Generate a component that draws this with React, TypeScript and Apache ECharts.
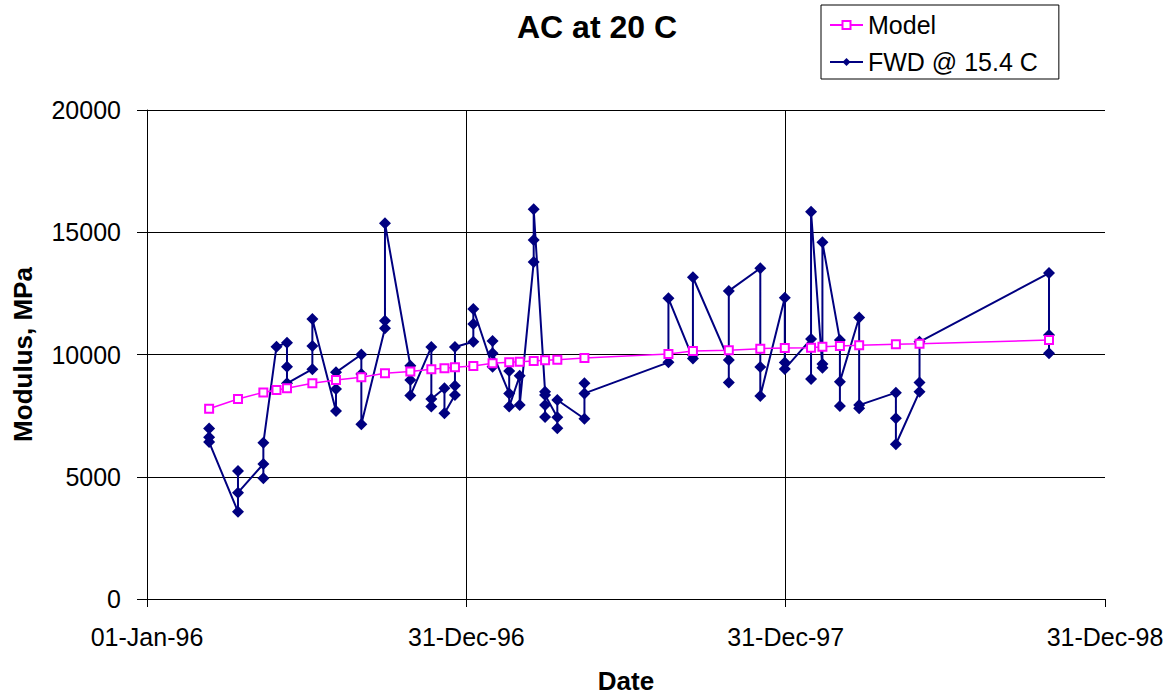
import React, { useEffect, useRef } from "react";
import * as echarts from "echarts";

// Survey dates (one per model point / FWD visit)
const dates = [
  "1996-03-12", "1996-04-14", "1996-05-13", "1996-05-28", "1996-06-09",
  "1996-07-08", "1996-08-04", "1996-09-02", "1996-09-29", "1996-10-28",
  "1996-11-21", "1996-12-06", "1996-12-18", "1997-01-08", "1997-01-30",
  "1997-02-18", "1997-03-02", "1997-03-18", "1997-03-31", "1997-04-14",
  "1997-05-15", "1997-08-19", "1997-09-16", "1997-10-27", "1997-12-02",
  "1997-12-30", "1998-01-29", "1998-02-11", "1998-03-03", "1998-03-25",
  "1998-05-06", "1998-06-02", "1998-10-28",
];

// Model modulus (MPa) at each date
const modelValues = [
  7780, 8180, 8450, 8550, 8620, 8820, 8960, 9070, 9230, 9300,
  9400, 9440, 9480, 9530, 9640, 9680, 9700, 9730, 9760, 9790,
  9860, 10020, 10140, 10170, 10240, 10270, 10280, 10320, 10350, 10380,
  10420, 10440, 10590,
];

// FWD back-calculated modulus (MPa), readings per date in plotting order
const fwdReadings = [
  [6970, 6620, 6420],
  [3570, 5240, 4350],
  [5520, 4940, 6390],
  [10320],
  [10480, 9500, 8820],
  [9400, 10350, 11450],
  [7690, 8590, 9270],
  [10000, 9200, 7150],
  [11070, 11380, 15370],
  [9540, 8960, 8320],
  [10310, 7870, 8180],
  [8620, 7600],
  [8340, 8720, 10310],
  [10520, 11250, 11860],
  [9500, 10550, 10050],
  [8410, 9330, 7870],
  [9130, 7930],
  [13780, 14680, 15940],
  [8480, 7440, 7930, 8340],
  [7430, 6980, 8140],
  [7370, 8820, 8410],
  [9680, 12300],
  [9840, 9980, 13160],
  [9780, 8850, 12600],
  [13530, 9490, 8300],
  [12320, 9670, 9410],
  [10630, 9000, 15840],
  [9460, 9610, 14590],
  [10590, 7890, 8890],
  [11510, 7800, 7930],
  [8440, 7390, 6330],
  [8480, 8850, 10520],
  [13330, 10800, 10050],
];

const xTickLabels = ["01-Jan-96", "31-Dec-96", "31-Dec-97", "31-Dec-98"];
const yTicks = [0, 5000, 10000, 15000, 20000];

const DAY0 = Date.UTC(1996, 0, 1);
const toDay = (s: string) => {
  const [y, m, d] = s.split("-").map(Number);
  return (Date.UTC(y, m - 1, d) - DAY0) / 86400000;
};

const FONT = "Arial, 'Liberation Sans', sans-serif";

export default function App() {
  const ref = useRef<HTMLDivElement>(null);

  useEffect(() => {
    if (!ref.current) return;
    const chart = echarts.init(ref.current, undefined, { renderer: "svg" });

    const modelData = dates.map((d, i) => [toDay(d), modelValues[i]]);
    const fwdData: number[][] = [];
    dates.forEach((d, i) => {
      fwdReadings[i].forEach((v) => fwdData.push([toDay(d), v]));
    });

    const option: any = {
      animation: false,
      backgroundColor: "#ffffff",
      textStyle: { fontFamily: FONT },
      title: {
        text: "AC at 20 C",
        left: 592,
        top: 6,
        textAlign: "center",
        textStyle: { fontFamily: FONT, fontSize: 32, fontWeight: "bold", color: "#000" },
      },
      legend: {
        orient: "vertical",
        left: 821,
        top: 5,
        padding: [6, 21, 3, 8],
        itemGap: 9,
        itemWidth: 33,
        itemHeight: 10,
        borderColor: "#000",
        borderWidth: 1,
        backgroundColor: "#fff",
        textStyle: { fontFamily: FONT, fontSize: 25, color: "#000", lineHeight: 28 },
        data: ["Model", "FWD @ 15.4 C"],
      },
      grid: {
        left: 147,
        right: 67,
        top: 110,
        bottom: 97,
        containLabel: false,
        outerBoundsMode: "none",
      },
      xAxis: {
        type: "value",
        min: 0,
        max: 1095,
        interval: 365,
        name: "Date",
        nameLocation: "middle",
        nameGap: 70,
        nameTextStyle: {
          fontFamily: FONT,
          fontSize: 26,
          lineHeight: 24,
          fontWeight: "bold",
          color: "#000",
        },
        axisLine: { show: true, lineStyle: { color: "#000", width: 1 } },
        axisTick: { show: true, length: 8, lineStyle: { color: "#000" } },
        axisLabel: {
          fontFamily: FONT,
          fontSize: 25,
          color: "#000",
          margin: 25,
          formatter: (v: number) => xTickLabels[Math.round(v / 365)] ?? "",
        },
        splitLine: { show: true, showMinLine: false, showMaxLine: false, lineStyle: { color: "#000", width: 1 } },
      },
      yAxis: {
        type: "value",
        min: yTicks[0],
        max: yTicks[yTicks.length - 1],
        interval: 5000,
        name: "Modulus, MPa",
        nameLocation: "middle",
        nameRotate: 90,
        nameGap: 111,
        nameTextStyle: { fontFamily: FONT, fontSize: 26, fontWeight: "bold", color: "#000" },
        axisLine: { show: true, lineStyle: { color: "#000", width: 1 } },
        axisTick: { show: true, length: 10, lineStyle: { color: "#000" } },
        axisLabel: {
          fontFamily: FONT,
          fontSize: 25,
          color: "#000",
          margin: 26,
          formatter: (v: number) => String(v),
        },
        splitLine: { show: true, lineStyle: { color: "#000", width: 1 } },
      },
      series: [
        {
          name: "Model",
          type: "line",
          data: modelData,
          symbol: "emptyRect",
          symbolSize: 8,
          z: 3,
          lineStyle: { color: "#FF00FF", width: 1.5 },
          itemStyle: { color: "#FF00FF", borderColor: "#FF00FF", borderWidth: 1.5 },
        },
        {
          name: "FWD @ 15.4 C",
          type: "line",
          data: fwdData,
          symbol: "diamond",
          symbolSize: 12,
          z: 2,
          lineStyle: { color: "#000080", width: 2 },
          itemStyle: { color: "#000080" },
        },
      ],
    };

    chart.setOption(option);
    return () => chart.dispose();
  }, []);

  return (
    <div
      ref={ref}
      style={{ position: "fixed", left: 0, top: 0, width: 1172, height: 696, background: "#fff" }}
    />
  );
}
